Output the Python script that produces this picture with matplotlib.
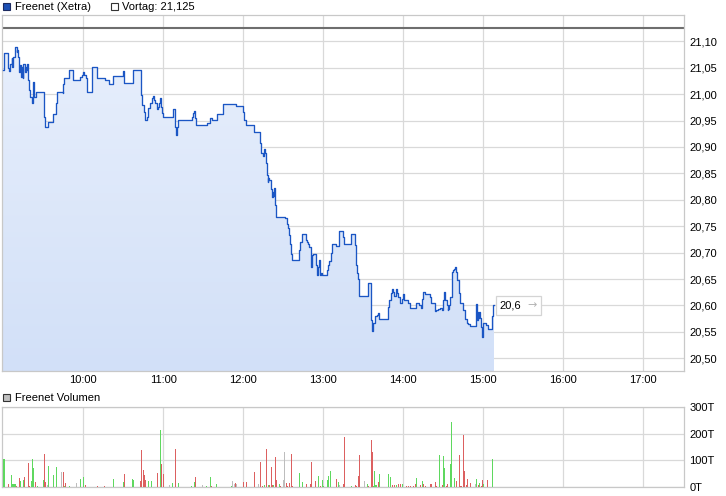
import numpy as np
import matplotlib
matplotlib.use("Agg")
import matplotlib.pyplot as plt
from matplotlib.patches import Polygon, Rectangle
from matplotlib.colors import LinearSegmentedColormap
from matplotlib.offsetbox import AnnotationBbox, HPacker, TextArea

# ---------------- data ----------------
title_main = "Freenet (Xetra)"
title_prev = "Vortag: 21,125"
title_vol = "Freenet Volumen"
vortag = 21.125
last_label = "20,6"

# minutes after 09:00
price_min = [0, 0.15, 3.0, 3.75, 4.3, 5.0, 6.3, 6.75, 7.5, 8.8, 10.0, 10.5, 11.25, 12.0, 12.5, 13.05, 13.8,
             14.55, 15.0, 16.3, 17.0, 17.55, 18.0, 18.75, 19.5, 20.0, 21.3, 22.05, 22.5, 23.25, 24.3,
             30.75, 31.3, 33.3, 33.75, 37.05, 39.3, 40.05, 44.55, 45.0, 45.75, 49.5, 52.5, 57.75, 58.8,
             60.0, 60.75, 62.0, 62.55, 63.0, 66.75, 70.5, 76.3, 79.5, 82.5, 90.0, 90.75, 97.5,
             103.05, 103.3, 104.25, 105.5, 106.3, 107.55, 108.75, 110.0, 111.3, 112.05, 113.0, 113.8,
             115.05, 116.25, 117.0, 117.5, 118.05, 118.8, 119.55, 127.05, 128.55, 129.3, 130.05, 131.25,
             141.3, 142.5, 143.0, 143.8, 144.5, 153.0, 155.0, 156.3, 160.05, 165.0, 174.3, 179.55, 180.5,
             182.0, 188.0, 192.5, 193.3, 194.55, 195.5, 196.3, 197.0, 197.55, 198.3, 198.75, 199.5,
             200.55, 201.3, 202.05, 202.8, 203.25, 203.8, 204.5, 211.3, 212.55, 213.3, 214.3, 215.0,
             215.8, 216.3, 221.8, 222.5, 223.8, 226.8, 227.55, 228.75, 229.5, 230.55, 231.0, 231.5,
             232.05, 234.5, 235.05, 235.8, 236.25, 236.8, 237.5, 238.3, 239.25, 243.0, 243.75, 244.5,
             245.55, 246.3, 249.5, 252.0, 255.0, 255.75, 260.8, 263.8, 264.5, 265.05, 265.8, 266.8,
             273.75, 275.8, 276.75, 277.5, 278.8, 280.05, 281.25, 281.8, 288.75, 289.5, 290.55, 291.75,
             292.5, 293.25, 294.3, 295.5, 296.25, 297.5, 298.8, 299.55, 300.5, 302.55, 303.75, 305.0,
             309.5, 312.0, 313.05, 313.8, 315.0, 316.3, 320.0, 320.8, 323.8, 324.5, 326.25, 327.5,
             328.8, 329.55, 330.0, 330.75, 331.3, 332.55, 333.3, 333.75, 334.5, 335.25, 336.3, 337.05,
             338.0, 338.8, 339.5, 340.05, 342.0, 342.5, 345.0, 346.3, 347.55, 348.75, 350.0, 354.5,
             355.05, 355.8, 356.25, 357.0, 357.75, 358.3, 358.8, 359.25, 359.8, 362.0, 363.3, 366.75,
             367.3, 368.25]

price_val = [21.046, 21.077, 21.077, 21.049, 21.044, 21.058, 21.068, 21.052, 21.071, 21.090, 21.080,
             21.083, 21.071, 21.042, 21.055, 21.033, 21.052, 21.030, 21.058, 21.042, 21.052, 21.046,
             21.058, 21.027, 21.008, 20.995, 20.983, 20.989, 21.023, 20.995, 21.005,
             20.957, 20.938, 20.941, 20.947, 20.962, 20.983, 21.005, 21.002, 21.019, 21.031, 21.045,
             21.027, 21.033, 21.037, 21.041, 21.037, 21.030, 21.014, 21.005, 21.051, 21.031, 21.027,
             21.020, 21.035, 21.044, 21.022, 21.046,
             21.027, 20.998, 20.979, 20.967, 20.952, 20.957, 20.973, 20.983, 20.992, 20.996, 20.989,
             20.983, 20.971, 20.976, 20.983, 20.992, 20.976, 20.964, 20.956, 20.971, 20.938, 20.923,
             20.938, 20.952, 20.957, 20.964, 20.968, 20.954, 20.941, 20.945, 20.954, 20.952, 20.962,
             20.981, 20.977, 20.967, 20.952, 20.941, 20.929, 20.907, 20.888, 20.883, 20.897, 20.888,
             20.869, 20.847, 20.834, 20.842, 20.837, 20.820, 20.806, 20.815, 20.807, 20.822, 20.790,
             20.768, 20.765, 20.755, 20.746, 20.733, 20.717, 20.698, 20.687, 20.705, 20.720, 20.735,
             20.724, 20.720, 20.717, 20.711, 20.692, 20.672, 20.695, 20.697, 20.676, 20.657, 20.664,
             20.673, 20.686, 20.657, 20.661, 20.657, 20.667, 20.676, 20.684, 20.700, 20.717, 20.712,
             20.741, 20.730, 20.717, 20.736, 20.714, 20.676, 20.661, 20.651, 20.618, 20.642, 20.572,
             20.551, 20.566, 20.580, 20.582, 20.585, 20.575, 20.597, 20.610, 20.623, 20.632, 20.626,
             20.618, 20.632, 20.623, 20.616, 20.604, 20.613, 20.621, 20.611, 20.610, 20.604, 20.596,
             20.605, 20.601, 20.596, 20.613, 20.626, 20.621, 20.616, 20.604, 20.590, 20.592, 20.594,
             20.596, 20.591, 20.593, 20.610, 20.626, 20.610, 20.601, 20.591, 20.594, 20.601, 20.616,
             20.664, 20.667, 20.670, 20.672, 20.664, 20.648, 20.623, 20.605, 20.591, 20.575, 20.567,
             20.565, 20.561, 20.602, 20.572, 20.588, 20.577, 20.588, 20.577, 20.559, 20.555, 20.541,
             20.566, 20.563, 20.556, 20.580, 20.601, 20.600]

vol_min = [0.5, 3.75, 6.25, 7, 8, 9, 9.75, 12, 13, 15, 15.75, 18.75, 19.5, 21, 21.75, 22.5, 24, 25.5, 30,
           30.75, 31.5, 33.25, 34, 37.5, 39.75, 43.5, 45, 45.75, 46.5, 49.5, 54.75, 57.75, 60, 61.5, 70.5,
           75.75, 82.5, 90, 90.75, 96.75, 97.5, 102.75, 103.5, 105, 105.75, 106.5, 108.75, 111, 115.5,
           117.75, 118.5, 120, 124.5, 126.75, 129, 131.5, 141, 143.25, 144, 149.25, 152.25, 155.25, 156,
           159.75, 171, 171.75, 173.25, 174, 174.75, 180, 182.25, 188.25, 191.25, 192.75, 194.25, 195.75,
           197.25, 198.75, 199.5, 201, 201.75, 202.5, 204, 204.75, 207, 207.75, 210, 210.75, 212.25, 213,
           214.5, 216, 216.75, 222, 224.25, 227.25, 230.25, 231, 234, 236.25, 237.75, 239.25, 240, 243,
           243.75, 245.25, 249.75, 251.25, 252, 255, 255.75, 261, 264, 264.75, 266.25, 267, 270.75, 273,
           273.75, 276, 276.75, 277.5, 278.25, 279, 279.75, 281.25, 282, 288.75, 290.25, 291.75, 293.25,
           294.75, 296.25, 297.75, 299.25, 302.25, 303.75, 305.25, 307.5, 309, 309.75, 312.75, 314.25,
           315, 316.5, 320.25, 321, 324, 324.75, 327, 329.25, 330, 330.75, 332.25, 333, 335.25, 336,
           338.25, 339.75, 342, 342.75, 343.5, 345, 345.75, 347.25, 348, 350.25, 354, 354.75, 356.25,
           357, 358.5, 359.25, 360, 363, 366.75]

vol_val = [106, 11, 45, 11, 11, 11, 4, 34, 23, 26, 38, 91, 4, 23, 106, 72, 20, 4, 26, 125, 19, 6, 79, 45,
           75, 57, 57, 4, 15, 4, 15, 30, 38, 8, 4, 4, 30, 19, 49, 30, 26, 23, 140, 64, 45, 26, 23, 23, 53,
           215, 87, 49, 8, 15, 143, 15, 4, 19, 38, 8, 4, 38, 4, 11, 4, 23, 11, 15, 11, 19, 19, 57, 11, 94,
           4, 8, 143, 8, 8, 75, 8, 8, 113, 26, 11, 4, 26, 132, 15, 4, 15, 125, 4, 53, 19, 11, 11, 94, 23,
           41, 4, 26, 4, 26, 41, 60, 30, 19, 8, 11, 189, 4, 8, 4, 41, 121, 23, 11, 4, 177, 132, 4, 60, 8,
           8, 19, 49, 49, 38, 8, 8, 8, 11, 11, 11, 4, 4, 4, 4, 11, 34, 8, 23, 11, 4, 11, 11, 19, 4, 121, 8,
           117, 72, 4, 11, 87, 245, 34, 23, 121, 4, 4, 196, 60, 8, 30, 15, 11, 30, 8, 15, 4, 26, 11, 26,
           106]

# g = up (green), r = down (red), n = unchanged (grey)
vol_dir = ("grggggrrgg" "rrrgggrggr" "rngggnrgrg" "nggrrrggrg" "grrrrrggrg"
           "rrngrgggrn" "ggrggnnrnr" "rrnrrgrgrr" "rgrrgrnnrr" "rrrggrrrrg"
           "rgggggrgnr" "rgrrrrngrr" "rggggrgggr" "rgrrgrrrrr" "grgrrrrrrg"
           "rggrrgggrr" "rrrrrrrngr" "grrgrg")

hour_labels = ["10:00", "11:00", "12:00", "13:00", "14:00", "15:00", "16:00", "17:00"]
price_ticks = [20.50, 20.55, 20.60, 20.65, 20.70, 20.75, 20.80, 20.85, 20.90, 20.95, 21.00, 21.05, 21.10]
vol_ticks = [0, 100, 200, 300]
vol_tick_labels = ["0T", "100T", "200T", "300T"]

# ---------------- style ----------------
plt.rcParams['font.family'] = ['Liberation Sans', 'DejaVu Sans']
FS = 8
GRID = '#d9d9d9'
SPINE = '#c8c8c8'
LINE = '#1b56c4'
W, H = 726, 496

fig = plt.figure(figsize=(W / 100, H / 100), dpi=100)


def rect(l, t, r, b):
    return [l / W, 1 - b / H, (r - l) / W, (b - t) / H]


ax = fig.add_axes(rect(2, 15, 684, 371))
axv = fig.add_axes(rect(2, 407, 684, 487))

xlim = (-1.0, 510.5)
hour_pos = [60 * (i + 1) for i in range(len(hour_labels))]

for a in (ax, axv):
    a.set_xlim(*xlim)
    a.set_xticks(hour_pos)
    a.grid(True, color=GRID, lw=0.9)
    a.set_axisbelow(True)
    a.tick_params(length=0, labelsize=FS, colors='black')
    a.yaxis.tick_right()
    a.tick_params(axis='y', pad=4)
    for s in a.spines.values():
        s.set_color(SPINE)
        s.set_linewidth(0.9)

ylo, yhi = 20.476, 21.1498
ax.set_ylim(ylo, yhi)
ax.set_yticks(price_ticks)
ax.set_yticklabels([f"{v:.2f}".replace('.', ',') for v in price_ticks])
ax.set_xticklabels(hour_labels)
ax.tick_params(axis='x', pad=3)

# gradient fill under step line
pm = np.asarray(price_min, float)
pv = np.asarray(price_val, float)
xs = np.repeat(pm, 2)[1:]
ys = np.repeat(pv, 2)[:-1]
verts = np.column_stack([np.r_[xs, xs[-1], xs[0]], np.r_[ys, ylo, ylo]])
poly = Polygon(verts, closed=True, facecolor='none', edgecolor='none')
ax.add_patch(poly)
cmap = LinearSegmentedColormap.from_list('fill', ['#d2e0f8', '#e9f0fc'])
grad = np.linspace(0, 1, 256).reshape(-1, 1)
im = ax.imshow(grad, cmap=cmap, extent=[xlim[0], xlim[1], ylo, yhi], origin='lower',
               aspect='auto', zorder=1.5)
im.set_clip_path(poly)

ax.step(pm, pv, where='post', color=LINE, lw=0.95, zorder=3)
ax.axhline(vortag, color='#6e6e6e', lw=1.5, zorder=2.5)

# last price label: black value + grey arrow inside a light box
pack = HPacker(children=[TextArea(last_label, textprops=dict(fontsize=FS, color='black')),
                         TextArea("\u2192", textprops=dict(fontsize=FS, color='#b4b4b4',
                                                            family='DejaVu Sans'))],
               sep=4, pad=0, align='center')
ab = AnnotationBbox(pack, (pm[-1], pv[-1]), xybox=(4, 0), boxcoords='offset points',
                    box_alignment=(0, 0.5), frameon=True, pad=0.3,
                    bboxprops=dict(boxstyle='square,pad=0.3', fc='white', ec='#d4d4d4', lw=0.9))
ab.set_zorder(5)
ax.add_artist(ab)

# volume
colmap = {'g': '#5fd85f', 'r': '#dc6060', 'n': '#bdbdbd'}
axv.bar(vol_min, vol_val, width=0.8, color=[colmap[c] for c in vol_dir], linewidth=0, zorder=3)
axv.set_ylim(0, 300)
axv.set_yticks(vol_ticks)
axv.set_yticklabels(vol_tick_labels)
axv.set_xticklabels([])


# legends (figure pixel coordinates)
def fig_rect(x, y, w, h, fc, ec):
    fig.add_artist(Rectangle((x / W, 1 - (y + h) / H), w / W, h / H, transform=fig.transFigure,
                             facecolor=fc, edgecolor=ec, lw=0.8))


def fig_text(x, y, s):
    fig.text(x / W, 1 - y / H, s, fontsize=FS, va='center', ha='left', color='black')


fig_rect(3, 3, 7, 7, '#1d50b4', '#1c2a60')
fig_text(15, 7, title_main)
fig_rect(111, 3, 7, 7, 'white', '#333333')
fig_text(122, 7, title_prev)
fig_rect(3, 394, 7, 7, '#c0c0c0', '#333333')
fig_text(15, 398, title_vol)

fig.savefig("out.png", dpi=100)
